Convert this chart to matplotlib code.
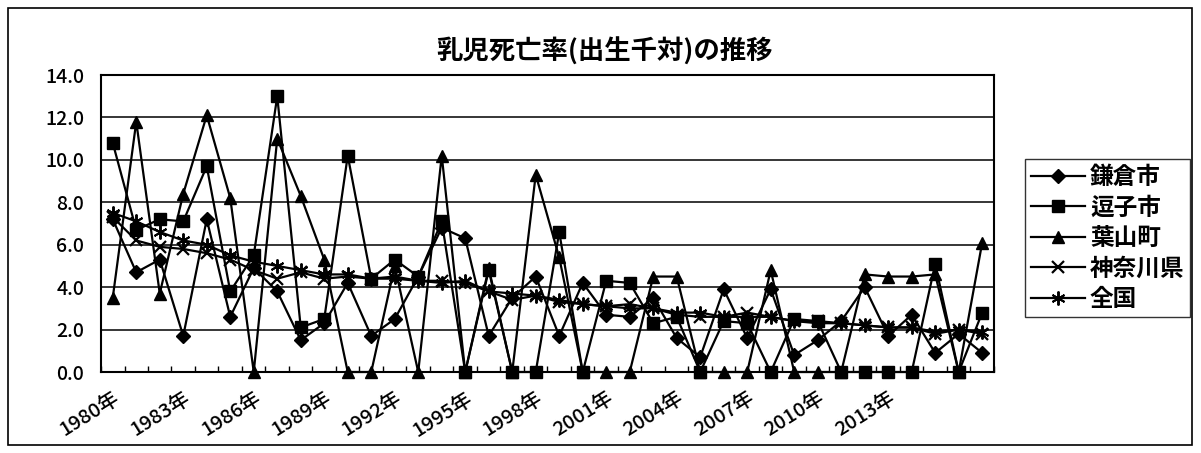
import matplotlib
matplotlib.use("Agg")
import matplotlib.pyplot as plt
from matplotlib.patches import Rectangle
import numpy as np

plt.rcParams['font.family'] = ['Noto Sans CJK JP', 'DejaVu Sans']

years = list(range(1980, 2018))
tick_labels = [f"{y}年" if (y - 1980) % 3 == 0 and y <= 2013 else "" for y in years]

kamakura = [7.2, 4.7, 5.3, 1.7, 7.2, 2.6, 4.9, 3.8, 1.5, 2.3,
            4.2, 1.7, 2.5, 4.5, 6.8, 6.3, 1.7, 3.5, 4.5, 1.7,
            4.2, 2.7, 2.6, 3.5, 1.6, 0.7, 3.9, 1.6, 3.9, 0.8,
            1.5, 2.4, 4.0, 1.7, 2.7, 0.9, 1.8, 0.9]
zushi = [10.8, 6.7, 7.2, 7.1, 9.7, 3.8, 5.5, 13.0, 2.1, 2.5,
         10.2, 4.4, 5.3, 4.5, 7.1, 0.0, 4.8, 0.0, 0.0, 6.6,
         0.0, 4.3, 4.2, 2.3, 2.6, 0.0, 2.4, 2.3, 0.0, 2.5,
         2.4, 0.0, 0.0, 0.0, 0.0, 5.1, 0.0, 2.8]
hayama = [3.5, 11.8, 3.7, 8.4, 12.1, 8.2, 0.0, 11.0, 8.3, 5.3,
          0.0, 0.0, 5.0, 0.0, 10.2, 0.0, 4.9, 0.0, 9.3, 5.4,
          0.0, 0.0, 0.0, 4.5, 4.5, 0.0, 0.0, 0.0, 4.8, 0.0,
          0.0, 0.0, 4.6, 4.5, 4.5, 4.6, 0.0, 6.1]
kanagawa = [7.3, 6.2, 5.9, 5.8, 5.6, 5.3, 4.8, 4.4, 4.7, 4.4,
            4.5, 4.4, 4.4, 4.3, 4.3, 4.2, 3.8, 3.4, 3.6, 3.3,
            3.2, 3.1, 3.2, 3.0, 2.7, 2.6, 2.6, 2.8, 2.6, 2.4,
            2.4, 2.3, 2.2, 2.1, 2.1, 1.8, 2.0, 1.8]
japan = [7.5, 7.1, 6.6, 6.2, 6.0, 5.5, 5.2, 5.0, 4.8, 4.6,
         4.6, 4.4, 4.5, 4.3, 4.2, 4.3, 3.8, 3.7, 3.6, 3.4,
         3.2, 3.1, 3.0, 3.0, 2.8, 2.8, 2.6, 2.6, 2.6, 2.4,
         2.3, 2.3, 2.2, 2.1, 2.1, 1.9, 2.0, 1.9]

series = [
    ("鎌倉市", kamakura, dict(marker="D", markersize=7)),
    ("逗子市", zushi, dict(marker="s", markersize=8)),
    ("葉山町", hayama, dict(marker="^", markersize=8)),
    ("神奈川県", kanagawa, dict(marker="x", markersize=8, markeredgewidth=1.6)),
    ("全国", japan, dict(marker=(6, 2, 0), markersize=10, markeredgewidth=1.4)),
]

fig = plt.figure(figsize=(12.01, 4.53), dpi=100)
ax = fig.add_axes([0.0841, 0.1788, 0.7435, 0.6556])

x = np.arange(len(years))
for name, vals, style in series:
    ax.plot(x, vals, color="black", linewidth=1.6, label=name, clip_on=False,
            markerfacecolor="black", markeredgecolor="black", **style)

ax.set_xlim(-0.5, len(years) - 0.5)
ax.set_ylim(0, 14)
ax.set_yticks(np.arange(0, 14.1, 2))
ax.set_yticklabels([f"{v:.1f}" for v in np.arange(0, 14.1, 2)],
                   fontsize=14, fontweight="medium")
ax.yaxis.grid(True, color="black", linewidth=1.1)
ax.set_axisbelow(True)
ax.tick_params(axis="y", length=0, pad=12)

ax.set_xticks(x)
ax.set_xticklabels(tick_labels, rotation=32, ha="right", rotation_mode="anchor",
                   fontsize=14.5, fontweight="medium")
ax.tick_params(axis="x", which="major", length=0, pad=12)
ax.set_xticks(np.arange(-0.5, len(years), 1), minor=True)
ax.tick_params(axis="x", which="minor", direction="in", length=4, width=1)

for s in ax.spines.values():
    s.set_linewidth(1.5)
    s.set_color("black")

fig.text(0.503, 0.887, "乳児死亡率(出生千対)の推移", ha="center", va="center",
         fontsize=19, fontweight="bold")

leg = fig.legend(loc="upper left", bbox_to_anchor=(0.8535, 0.649),
                 frameon=True, fancybox=False, handlelength=2.3,
                 borderpad=0.25, labelspacing=0.28, handletextpad=0.2,
                 borderaxespad=0, prop={"weight": "bold", "size": 17})
leg.get_frame().set_edgecolor("black")
leg.get_frame().set_linewidth(1.0)

fig.patches.append(Rectangle((8 / 1201, 8 / 453), 1184 / 1201, 437 / 453,
                             transform=fig.transFigure, fill=False,
                             edgecolor="black", linewidth=1.2))

fig.savefig("out.png", dpi=100)
